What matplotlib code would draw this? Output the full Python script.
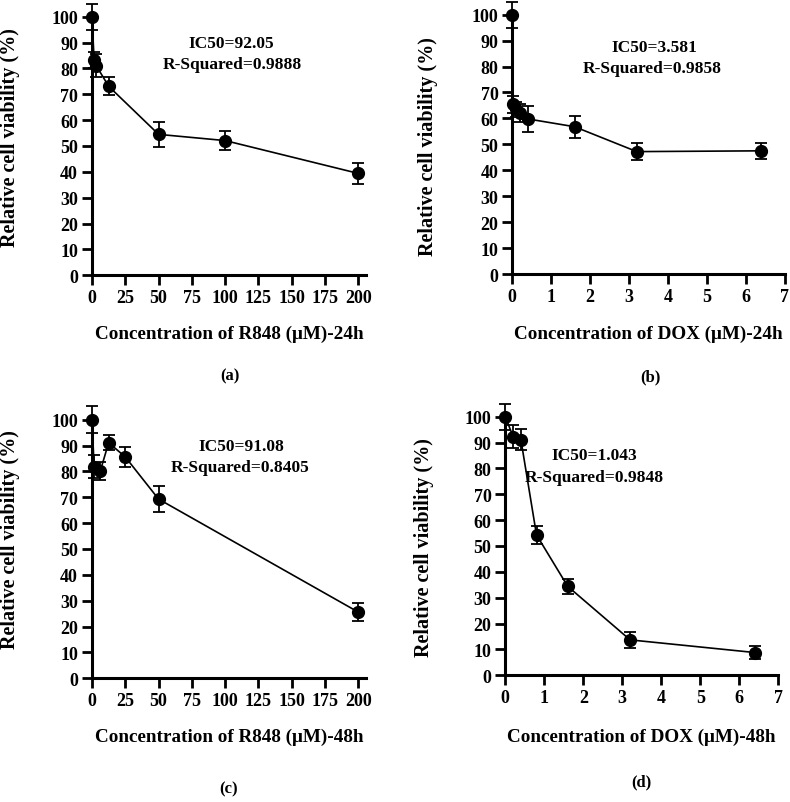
import matplotlib
matplotlib.use("Agg")
import matplotlib.pyplot as plt

plt.rcParams['font.family'] = ['Liberation Serif', 'DejaVu Serif']
plt.rcParams['font.weight'] = 'bold'

# ---------------- data ----------------
a_x = [0, 1.5625, 3.125, 12.5, 50, 100, 200]
a_y = [100, 83.2, 81.1, 73.1, 54.5, 52.1, 39.4]
a_err = [5.0, 3.0, 4.6, 3.5, 4.8, 3.7, 4.2]

b_x = [0, 0.025, 0.1, 0.2, 0.4, 1.6, 3.2, 6.4]
b_y = [100, 65.4, 63.5, 62.0, 59.8, 56.8, 47.2, 47.5]
b_err = [5.0, 3.2, 3.0, 3.5, 4.9, 4.2, 3.4, 3.0]

c_x = [0, 1.5625, 6.25, 12.5, 25, 50, 200]
c_y = [100, 81.8, 80.2, 91.1, 85.6, 69.3, 25.6]
c_err = [5.2, 4.5, 3.5, 3.0, 4.0, 5.0, 3.5]

d_x = [0, 0.2, 0.4, 0.8, 1.6, 3.2, 6.4]
d_y = [100, 92.3, 91.1, 54.3, 34.4, 13.7, 8.8]
d_err = [5.0, 4.5, 4.0, 3.5, 3.0, 3.0, 2.5]

yticks = list(range(0, 101, 10))
r848_ticks = list(range(0, 201, 25))
dox_ticks = list(range(0, 8))

xlabels = ["Concentration of R848 (\u03bcM)-24h", "Concentration of DOX (\u03bcM)-24h",
           "Concentration of R848 (\u03bcM)-48h", "Concentration of DOX (\u03bcM)-48h"]
ic50 = ["IC50=92.05", "IC50=3.581", "IC50=91.08", "IC50=1.043"]
rsq = ["R-Squared=0.9888", "R-Squared=0.9858", "R-Squared=0.8405", "R-Squared=0.9848"]
tags = ["(a)", "(b)", "(c)", "(d)"]
ylabel = "Relative cell viability (%)"

W, H = 790, 803
fig = plt.figure(figsize=(W / 100, H / 100), dpi=100)


def px_rect(left, right, top, bottom):
    return [left / W, 1 - bottom / H, (right - left) / W, (bottom - top) / H]


def ftext(x, y, s, **kw):
    fig.text(x / W, 1 - y / H, s, **kw)


panels = [
    dict(x=a_x, y=a_y, e=a_err, rect=px_rect(92, 366, 17.7, 276.3), xlim=(0, 205.8), xt=r848_ticks,
         ic=(231, 44.5), rs=(232, 65), yl=(10, 138), xl=(229, 334), tg=(230, 376)),
    dict(x=b_x, y=b_y, e=b_err, rect=px_rect(512.3, 784.6, 15.7, 275), xlim=(0, 7), xt=dox_ticks,
         ic=(654, 48), rs=(652, 69), yl=(428, 147), xl=(648, 334), tg=(650, 377)),
    dict(x=c_x, y=c_y, e=c_err, rect=px_rect(92, 366, 420.7, 679.3), xlim=(0, 205.8), xt=r848_ticks,
         ic=(241, 447), rs=(240, 468), yl=(10, 540), xl=(229, 737), tg=(229, 789)),
    dict(x=d_x, y=d_y, e=d_err, rect=px_rect(505.3, 778.3, 417.7, 676.3), xlim=(0, 7), xt=dox_ticks,
         ic=(594, 456), rs=(594, 478), yl=(424, 548), xl=(641, 737), tg=(641, 782)),
]

for i, p in enumerate(panels):
    ax = fig.add_axes(p['rect'])
    ax.errorbar(p['x'], p['y'], yerr=p['e'], fmt='-o', color='black', ms=8.5, lw=1.2,
                elinewidth=1.3, capsize=4, capthick=1.3, clip_on=False, zorder=3)
    ax.set_xlim(*p['xlim'])
    ax.set_ylim(0, 100)
    ax.set_xticks(p['xt'])
    ax.set_yticks(yticks)
    for s in ['top', 'right']:
        ax.spines[s].set_visible(False)
    for s in ['left', 'bottom']:
        ax.spines[s].set_linewidth(2.2)
    ax.tick_params(direction='out', length=7, width=2, labelsize=13, pad=3)
    for lab in ax.get_xticklabels() + ax.get_yticklabels():
        lab.set_fontweight('bold')
    ftext(*p['ic'], ic50[i], ha='center', va='center', fontsize=12.5, fontweight='bold')
    ftext(*p['rs'], rsq[i], ha='center', va='center', fontsize=12.5, fontweight='bold')
    ftext(*p['yl'], ylabel, ha='center', va='center', rotation=90, fontsize=14.5, fontweight='bold')
    ftext(*p['xl'], xlabels[i], ha='center', va='center', fontsize=13.8, fontweight='bold')
    ftext(*p['tg'], tags[i], ha='center', va='center', fontsize=12, fontweight='bold')

fig.savefig("out.png", dpi=100)
